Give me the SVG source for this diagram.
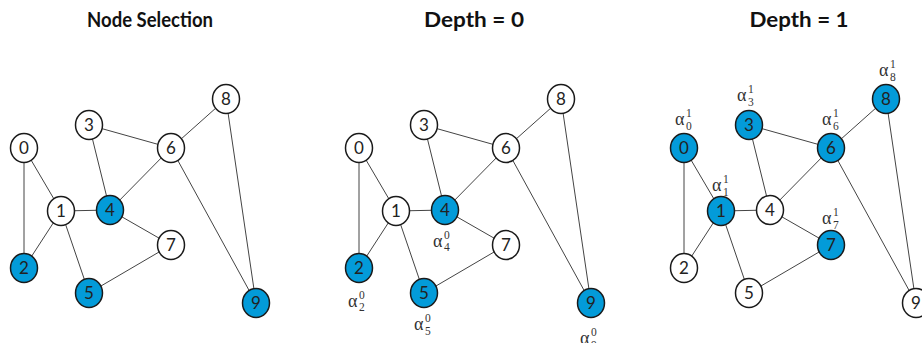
<svg xmlns="http://www.w3.org/2000/svg" width="922" height="343" viewBox="0 0 922 343">
<style>
.title{font-family:Lato,"Open Sans","Liberation Sans",sans-serif;font-weight:bold;font-size:21px;fill:#111;text-anchor:middle}
.edge{stroke:#444;stroke-width:1;fill:none}
.node ellipse{stroke:#1a1a1a;stroke-width:1.5}
.w{fill:#fff}
.b{fill:#039bd9}
.d{font-family:Lato,"Open Sans","Liberation Sans",sans-serif;font-size:17px;fill:#222;text-anchor:middle}
.a{font-family:"Liberation Serif","DejaVu Serif",serif;font-size:18px;fill:#333}
.s{font-family:"Liberation Serif","DejaVu Serif",serif;font-size:11.5px;fill:#333}
</style>
<rect width="922" height="343" fill="#fff"/>
<text class="title" x="150" y="26.5" textLength="126" lengthAdjust="spacingAndGlyphs">Node Selection</text>
<text class="title" x="474" y="26.5" textLength="100" lengthAdjust="spacingAndGlyphs">Depth = 0</text>
<text class="title" x="799" y="26.5" textLength="99" lengthAdjust="spacingAndGlyphs">Depth = 1</text>

<!-- Panel 1 -->
<g id="panel1">
<g id="p1-edges">
<line class="edge" x1="24" y1="148" x2="61" y2="211"/>
<line class="edge" x1="24" y1="148" x2="24" y2="268"/>
<line class="edge" x1="61" y1="211" x2="24" y2="268"/>
<line class="edge" x1="61" y1="211" x2="110" y2="210"/>
<line class="edge" x1="61" y1="211" x2="89" y2="293"/>
<line class="edge" x1="89" y1="125" x2="110" y2="210"/>
<line class="edge" x1="89" y1="125" x2="171" y2="148"/>
<line class="edge" x1="110" y1="210" x2="171" y2="148"/>
<line class="edge" x1="110" y1="210" x2="171" y2="245"/>
<line class="edge" x1="89" y1="293" x2="171" y2="245"/>
<line class="edge" x1="171" y1="148" x2="226" y2="99"/>
<line class="edge" x1="171" y1="148" x2="256" y2="303"/>
<line class="edge" x1="226" y1="99" x2="256" y2="303"/>
</g>
<g id="p1-n0" class="node"><ellipse class="w" cx="24" cy="148" rx="13.5" ry="14.5"/><text class="d" x="24" y="154">0</text></g>
<g id="p1-n1" class="node"><ellipse class="w" cx="61" cy="211" rx="13.5" ry="14.5"/><text class="d" x="61" y="217">1</text></g>
<g id="p1-n2" class="node"><ellipse class="b" cx="24" cy="268" rx="13.5" ry="14.5"/><text class="d" x="24" y="274">2</text></g>
<g id="p1-n3" class="node"><ellipse class="w" cx="89" cy="125" rx="13.5" ry="14.5"/><text class="d" x="89" y="131">3</text></g>
<g id="p1-n4" class="node"><ellipse class="b" cx="110" cy="210" rx="13.5" ry="14.5"/><text class="d" x="110" y="216">4</text></g>
<g id="p1-n5" class="node"><ellipse class="b" cx="89" cy="293" rx="13.5" ry="14.5"/><text class="d" x="89" y="299">5</text></g>
<g id="p1-n6" class="node"><ellipse class="w" cx="171" cy="148" rx="13.5" ry="14.5"/><text class="d" x="171" y="154">6</text></g>
<g id="p1-n7" class="node"><ellipse class="w" cx="171" cy="245" rx="13.5" ry="14.5"/><text class="d" x="171" y="251">7</text></g>
<g id="p1-n8" class="node"><ellipse class="w" cx="226" cy="99" rx="13.5" ry="14.5"/><text class="d" x="226" y="105">8</text></g>
<g id="p1-n9" class="node"><ellipse class="b" cx="256" cy="303" rx="13.5" ry="14.5"/><text class="d" x="256" y="309">9</text></g>
</g>

<!-- Panel 2 -->
<g id="panel2" transform="translate(335,0)">
<g id="p2-edges">
<line class="edge" x1="24" y1="148" x2="61" y2="211"/>
<line class="edge" x1="24" y1="148" x2="24" y2="268"/>
<line class="edge" x1="61" y1="211" x2="24" y2="268"/>
<line class="edge" x1="61" y1="211" x2="110" y2="210"/>
<line class="edge" x1="61" y1="211" x2="89" y2="293"/>
<line class="edge" x1="89" y1="125" x2="110" y2="210"/>
<line class="edge" x1="89" y1="125" x2="171" y2="148"/>
<line class="edge" x1="110" y1="210" x2="171" y2="148"/>
<line class="edge" x1="110" y1="210" x2="171" y2="245"/>
<line class="edge" x1="89" y1="293" x2="171" y2="245"/>
<line class="edge" x1="171" y1="148" x2="226" y2="99"/>
<line class="edge" x1="171" y1="148" x2="256" y2="303"/>
<line class="edge" x1="226" y1="99" x2="256" y2="303"/>
</g>
<g id="p2-n0" class="node"><ellipse class="w" cx="24" cy="148" rx="13.5" ry="14.5"/><text class="d" x="24" y="154">0</text></g>
<g id="p2-n1" class="node"><ellipse class="w" cx="61" cy="211" rx="13.5" ry="14.5"/><text class="d" x="61" y="217">1</text></g>
<g id="p2-n2" class="node"><ellipse class="b" cx="24" cy="268" rx="13.5" ry="14.5"/><text class="d" x="24" y="274">2</text>
<text class="a" x="13" y="306.5">α</text><text class="s" x="24" y="298.5">0</text><text class="s" x="24" y="311">2</text></g>
<g id="p2-n3" class="node"><ellipse class="w" cx="89" cy="125" rx="13.5" ry="14.5"/><text class="d" x="89" y="131">3</text></g>
<g id="p2-n4" class="node"><ellipse class="b" cx="110" cy="210" rx="13.5" ry="14.5"/><text class="d" x="110" y="216">4</text>
<text class="a" x="98" y="246.5">α</text><text class="s" x="109" y="238.5">0</text><text class="s" x="109" y="251">4</text></g>
<g id="p2-n5" class="node"><ellipse class="b" cx="89" cy="293" rx="13.5" ry="14.5"/><text class="d" x="89" y="299">5</text>
<text class="a" x="79" y="330">α</text><text class="s" x="90" y="322">0</text><text class="s" x="90" y="334.5">5</text></g>
<g id="p2-n6" class="node"><ellipse class="w" cx="171" cy="148" rx="13.5" ry="14.5"/><text class="d" x="171" y="154">6</text></g>
<g id="p2-n7" class="node"><ellipse class="w" cx="171" cy="245" rx="13.5" ry="14.5"/><text class="d" x="171" y="251">7</text></g>
<g id="p2-n8" class="node"><ellipse class="w" cx="226" cy="99" rx="13.5" ry="14.5"/><text class="d" x="226" y="105">8</text></g>
<g id="p2-n9" class="node"><ellipse class="b" cx="256" cy="303" rx="13.5" ry="14.5"/><text class="d" x="256" y="309">9</text>
<text class="a" x="245" y="344">α</text><text class="s" x="256" y="336">0</text><text class="s" x="256" y="348.5">9</text></g>
</g>

<!-- Panel 3 -->
<g id="panel3" transform="translate(660,0)">
<g id="p3-edges">
<line class="edge" x1="24" y1="148" x2="61" y2="211"/>
<line class="edge" x1="24" y1="148" x2="24" y2="268"/>
<line class="edge" x1="61" y1="211" x2="24" y2="268"/>
<line class="edge" x1="61" y1="211" x2="110" y2="210"/>
<line class="edge" x1="61" y1="211" x2="89" y2="293"/>
<line class="edge" x1="89" y1="125" x2="110" y2="210"/>
<line class="edge" x1="89" y1="125" x2="171" y2="148"/>
<line class="edge" x1="110" y1="210" x2="171" y2="148"/>
<line class="edge" x1="110" y1="210" x2="171" y2="245"/>
<line class="edge" x1="89" y1="293" x2="171" y2="245"/>
<line class="edge" x1="171" y1="148" x2="226" y2="99"/>
<line class="edge" x1="171" y1="148" x2="256" y2="303"/>
<line class="edge" x1="226" y1="99" x2="256" y2="303"/>
</g>
<g id="p3-n0" class="node"><ellipse class="b" cx="24" cy="148" rx="13.5" ry="14.5"/><text class="d" x="24" y="154">0</text>
<text class="a" x="15" y="125">α</text><text class="s" x="26" y="117">1</text><text class="s" x="26" y="129.5">0</text></g>
<g id="p3-n1" class="node"><ellipse class="b" cx="61" cy="211" rx="13.5" ry="14.5"/><text class="d" x="61" y="217">1</text>
<text class="a" x="52" y="191">α</text><text class="s" x="63" y="183">1</text><text class="s" x="63" y="195.5">1</text></g>
<g id="p3-n2" class="node"><ellipse class="w" cx="24" cy="268" rx="13.5" ry="14.5"/><text class="d" x="24" y="274">2</text></g>
<g id="p3-n3" class="node"><ellipse class="b" cx="89" cy="125" rx="13.5" ry="14.5"/><text class="d" x="89" y="131">3</text>
<text class="a" x="77" y="101">α</text><text class="s" x="88" y="93">1</text><text class="s" x="88" y="105.5">3</text></g>
<g id="p3-n4" class="node"><ellipse class="w" cx="110" cy="210" rx="13.5" ry="14.5"/><text class="d" x="110" y="216">4</text></g>
<g id="p3-n5" class="node"><ellipse class="w" cx="89" cy="293" rx="13.5" ry="14.5"/><text class="d" x="89" y="299">5</text></g>
<g id="p3-n6" class="node"><ellipse class="b" cx="171" cy="148" rx="13.5" ry="14.5"/><text class="d" x="171" y="154">6</text>
<text class="a" x="162" y="125">α</text><text class="s" x="173" y="117">1</text><text class="s" x="173" y="129.5">6</text></g>
<g id="p3-n7" class="node"><ellipse class="b" cx="171" cy="245" rx="13.5" ry="14.5"/><text class="d" x="171" y="251">7</text>
<text class="a" x="162" y="224">α</text><text class="s" x="173" y="216">1</text><text class="s" x="173" y="228.5">7</text></g>
<g id="p3-n8" class="node"><ellipse class="b" cx="226" cy="99" rx="13.5" ry="14.5"/><text class="d" x="226" y="105">8</text>
<text class="a" x="219" y="76">α</text><text class="s" x="230" y="68">1</text><text class="s" x="230" y="80.5">8</text></g>
<g id="p3-n9" class="node"><ellipse class="w" cx="256" cy="303" rx="13.5" ry="14.5"/><text class="d" x="256" y="309">9</text></g>
</g>
</svg>
